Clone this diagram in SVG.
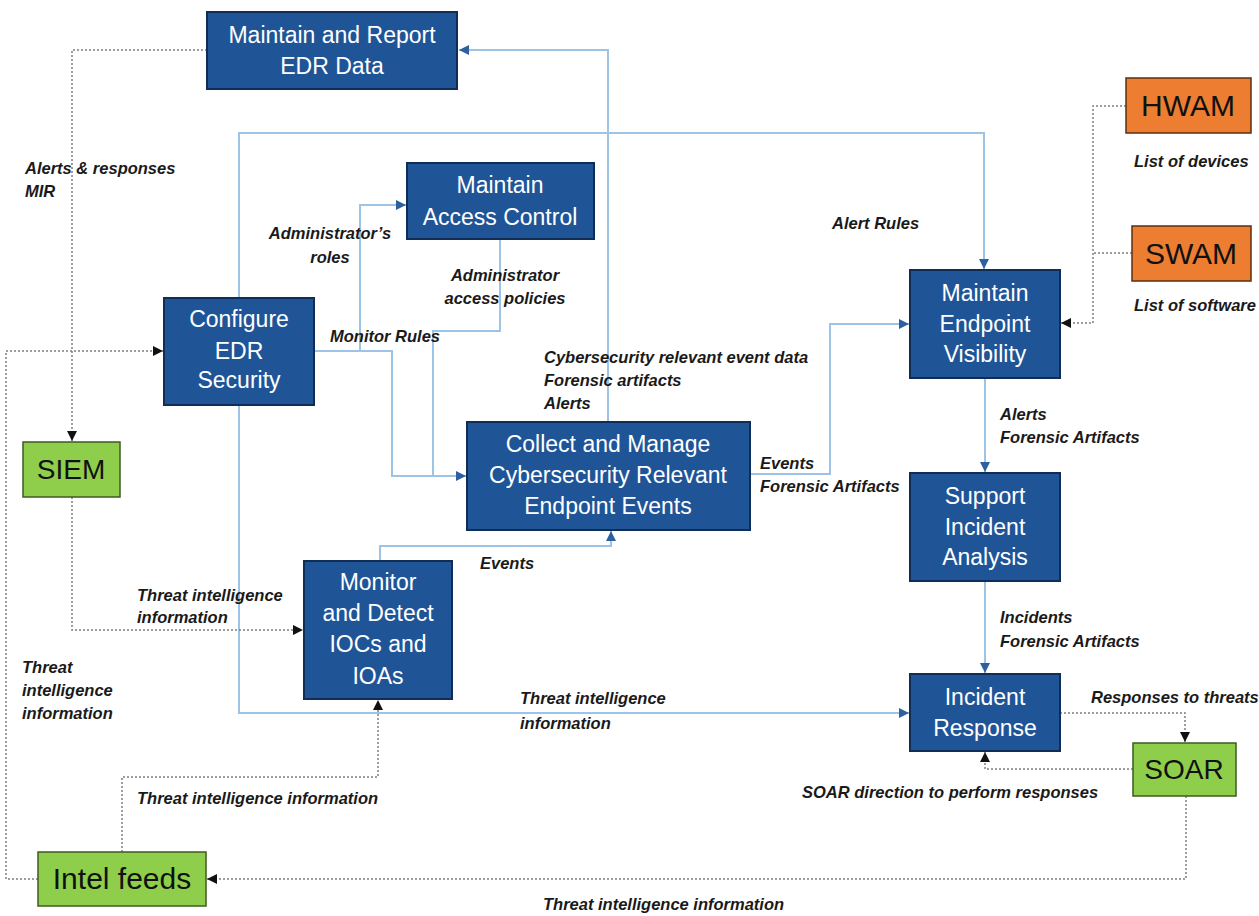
<svg xmlns="http://www.w3.org/2000/svg" width="1259" height="916" viewBox="0 0 1259 916">
  <style>
    .blue { fill: #1f5597; stroke: #0f2d55; stroke-width: 2; }
    .green { fill: #8fce4b; stroke: #3f5a22; stroke-width: 1.5; }
    .orange { fill: #ed7d31; stroke: #5a2f10; stroke-width: 1.5; }
    .nt { font-family: "Liberation Sans", Arial, sans-serif; font-size: 23px; fill: #ffffff; text-anchor: middle; }
    .et { font-family: "Liberation Sans", Arial, sans-serif; font-size: 28px; fill: #111111; text-anchor: middle; }
    .lb { font-family: "Liberation Sans", Arial, sans-serif; font-size: 16.5px; font-weight: bold; font-style: italic; fill: #1a1a1a; }
    .flow { fill: none; stroke: #9dc3e6; stroke-width: 2; }
    .ext { fill: none; stroke: #7f7f7f; stroke-width: 1.5; stroke-dasharray: 2 2; }
  </style>
  <defs>
    <marker id="arrBlue" markerUnits="userSpaceOnUse" markerWidth="10" markerHeight="10" refX="10" refY="5" orient="auto">
      <path d="M0,0 L10,5 L0,10 z" fill="#2e60a0"/>
    </marker>
    <marker id="arrBlack" markerUnits="userSpaceOnUse" markerWidth="10" markerHeight="10" refX="10" refY="5" orient="auto">
      <path d="M0,0 L10,5 L0,10 z" fill="#111111"/>
    </marker>
  </defs>
  <rect width="1259" height="916" fill="#ffffff"/>

  <!-- connectors -->
  <g id="connectors">
    <path class="flow" d="M608,422 V50 H459" marker-end="url(#arrBlue)"/>
    <path class="flow" d="M239,298 V133 H984 V269" marker-end="url(#arrBlue)"/>
    <path class="flow" d="M239,405 V713 H909" marker-end="url(#arrBlue)"/>
    <path class="flow" d="M314,351 H360 V205 H406" marker-end="url(#arrBlue)"/>
    <path class="flow" d="M314,351 H392 V476 H466" marker-end="url(#arrBlue)"/>
    <path class="flow" d="M500,239 V331 H433 V476"/>
    <path class="flow" d="M380,561 V546 H611 V531" marker-end="url(#arrBlue)"/>
    <path class="flow" d="M750,474 H830 V324 H909" marker-end="url(#arrBlue)"/>
    <path class="flow" d="M985,378 V472" marker-end="url(#arrBlue)"/>
    <path class="flow" d="M985,581 V673" marker-end="url(#arrBlue)"/>

    <path class="ext" d="M207,50 H72 V441" marker-end="url(#arrBlack)"/>
    <path class="ext" d="M72,497 V630 H303" marker-end="url(#arrBlack)"/>
    <path class="ext" d="M38,879 H6 V351 H163" marker-end="url(#arrBlack)"/>
    <path class="ext" d="M122,852 V777 H378 V700" marker-end="url(#arrBlack)"/>
    <path class="ext" d="M1186,796 V879 H207" marker-end="url(#arrBlack)"/>
    <path class="ext" d="M1060,713 H1185 V742" marker-end="url(#arrBlack)"/>
    <path class="ext" d="M1133,769 H985 V752" marker-end="url(#arrBlack)"/>
    <path class="ext" d="M1126,106 H1093 V323 H1061" marker-end="url(#arrBlack)"/>
    <path class="ext" d="M1132,253 H1093"/>
  </g>

  <!-- connector labels -->
  <g id="labels">
    <text class="lb" x="25" y="174">Alerts &amp; responses</text>
    <text class="lb" x="25" y="197">MIR</text>
    <text class="lb" x="330" y="239" text-anchor="middle">Administrator’s</text>
    <text class="lb" x="330" y="263" text-anchor="middle">roles</text>
    <text class="lb" x="505" y="281" text-anchor="middle">Administrator</text>
    <text class="lb" x="505" y="304" text-anchor="middle">access policies</text>
    <text class="lb" x="330" y="342">Monitor  Rules</text>
    <text class="lb" x="544" y="363">Cybersecurity relevant  event data</text>
    <text class="lb" x="544" y="386">Forensic artifacts</text>
    <text class="lb" x="544" y="409">Alerts</text>
    <text class="lb" x="832" y="229">Alert Rules</text>
    <text class="lb" x="1134" y="167">List of devices</text>
    <text class="lb" x="1134" y="311">List of software</text>
    <text class="lb" x="760" y="469">Events</text>
    <text class="lb" x="760" y="492">Forensic Artifacts</text>
    <text class="lb" x="1000" y="420">Alerts</text>
    <text class="lb" x="1000" y="443">Forensic Artifacts</text>
    <text class="lb" x="480" y="569">Events</text>
    <text class="lb" x="137" y="601">Threat intelligence</text>
    <text class="lb" x="137" y="623">information</text>
    <text class="lb" x="22" y="673">Threat</text>
    <text class="lb" x="22" y="696">intelligence</text>
    <text class="lb" x="22" y="719">information</text>
    <text class="lb" x="520" y="704">Threat intelligence</text>
    <text class="lb" x="520" y="729">information</text>
    <text class="lb" x="137" y="804">Threat intelligence  information</text>
    <text class="lb" x="1000" y="623">Incidents</text>
    <text class="lb" x="1000" y="647">Forensic Artifacts</text>
    <text class="lb" x="1091" y="703">Responses to threats</text>
    <text class="lb" x="802" y="798">SOAR direction to perform  responses</text>
    <text class="lb" x="543" y="910">Threat intelligence  information</text>
  </g>

  <!-- process nodes -->
  <g id="maintain-report">
    <rect class="blue" x="207" y="12" width="250" height="77"/>
    <text class="nt" x="332" y="43">Maintain and Report</text>
    <text class="nt" x="332" y="74">EDR Data</text>
  </g>
  <g id="access-control">
    <rect class="blue" x="407" y="163" width="187" height="76"/>
    <text class="nt" x="500" y="193">Maintain</text>
    <text class="nt" x="500" y="225">Access Control</text>
  </g>
  <g id="configure-edr">
    <rect class="blue" x="164" y="298" width="150" height="107"/>
    <text class="nt" x="239" y="327">Configure</text>
    <text class="nt" x="239" y="359">EDR</text>
    <text class="nt" x="239" y="388">Security</text>
  </g>
  <g id="collect-events">
    <rect class="blue" x="467" y="422" width="283" height="108"/>
    <text class="nt" x="608" y="452">Collect and Manage</text>
    <text class="nt" x="608" y="483">Cybersecurity Relevant</text>
    <text class="nt" x="608" y="514">Endpoint Events</text>
  </g>
  <g id="endpoint-visibility">
    <rect class="blue" x="910" y="270" width="150" height="108"/>
    <text class="nt" x="985" y="301">Maintain</text>
    <text class="nt" x="985" y="332">Endpoint</text>
    <text class="nt" x="985" y="362">Visibility</text>
  </g>
  <g id="incident-analysis">
    <rect class="blue" x="910" y="473" width="150" height="108"/>
    <text class="nt" x="985" y="504">Support</text>
    <text class="nt" x="985" y="535">Incident</text>
    <text class="nt" x="985" y="565">Analysis</text>
  </g>
  <g id="incident-response">
    <rect class="blue" x="910" y="674" width="150" height="77"/>
    <text class="nt" x="985" y="705">Incident</text>
    <text class="nt" x="985" y="736">Response</text>
  </g>
  <g id="monitor-detect">
    <rect class="blue" x="304" y="561" width="148" height="138"/>
    <text class="nt" x="378" y="590">Monitor</text>
    <text class="nt" x="378" y="621">and Detect</text>
    <text class="nt" x="378" y="652">IOCs and</text>
    <text class="nt" x="378" y="684">IOAs</text>
  </g>

  <!-- external systems -->
  <g id="hwam">
    <rect class="orange" x="1126" y="78" width="125" height="55"/>
    <text class="et" x="1188" y="116" style="font-size:30px">HWAM</text>
  </g>
  <g id="swam">
    <rect class="orange" x="1132" y="226" width="119" height="55"/>
    <text class="et" x="1191" y="264" style="font-size:30px">SWAM</text>
  </g>
  <g id="siem">
    <rect class="green" x="23" y="442" width="97" height="55"/>
    <text class="et" x="71" y="479">SIEM</text>
  </g>
  <g id="soar">
    <rect class="green" x="1133" y="743" width="103" height="53"/>
    <text class="et" x="1184" y="779">SOAR</text>
  </g>
  <g id="intel-feeds">
    <rect class="green" x="38" y="852" width="168" height="54"/>
    <text class="et" x="122" y="889" style="font-size:30px">Intel feeds</text>
  </g>
</svg>
